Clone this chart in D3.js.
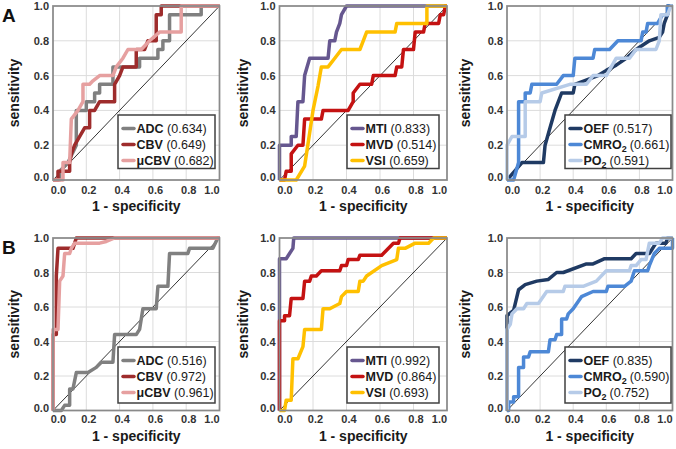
<!DOCTYPE html>
<html>
<head>
<meta charset="utf-8">
<script src="https://cdn.jsdelivr.net/npm/d3@7"></script>
<style>
  body { margin: 0; background: #fff; }
  svg text { font-family: "Liberation Sans", Arial, sans-serif; }
</style>
</head>
<body>
<svg id="chart" width="676" height="449"></svg>
<script>
// axis ticks and labels
const ticks = [0, 0.2, 0.4, 0.6, 0.8, 1.0];
const rowLabels = ["A", "B"];
const xTitle = "1 - specificity";
const yTitle = "sensitivity";

// series names per column ("_" marks a subscript)
const namesCol1 = ["ADC", "CBV", "μCBV"];
const namesCol2 = ["MTI", "MVD", "VSI"];
const namesCol3 = ["OEF", "CMRO_2", "PO_2"];

// AUC values shown in the legends
const aucA = [[0.634, 0.649, 0.682], [0.833, 0.514, 0.659], [0.517, 0.661, 0.591]];
const aucB = [[0.516, 0.972, 0.961], [0.992, 0.864, 0.693], [0.835, 0.590, 0.752]];

// ROC curves: [1 - specificity, sensitivity]
const A1_ADC = [[0,0],[0.04,0],[0.04,0.05],[0.09,0.1],[0.14,0.2],[0.14,0.4],[0.2,0.4],[0.2,0.45],[0.25,0.45],[0.25,0.5],[0.28,0.5],[0.28,0.55],[0.36,0.55],[0.36,0.65],[0.52,0.65],[0.52,0.7],[0.63,0.7],[0.63,0.75],[0.66,0.75],[0.66,0.8],[0.7,0.8],[0.7,0.95],[0.89,0.95],[0.89,1],[1,1]];
const A1_CBV = [[0,0],[0.03,0],[0.03,0.05],[0.1,0.05],[0.1,0.1],[0.11,0.15],[0.13,0.2],[0.19,0.3],[0.22,0.3],[0.22,0.4],[0.25,0.4],[0.28,0.45],[0.37,0.45],[0.37,0.55],[0.4,0.6],[0.42,0.65],[0.5,0.65],[0.5,0.75],[0.55,0.75],[0.57,0.8],[0.62,0.8],[0.62,0.95],[0.65,0.95],[0.65,1],[1,1]];
const A1_uCBV = [[0,0],[0.06,0],[0.06,0.1],[0.1,0.1],[0.11,0.35],[0.15,0.4],[0.18,0.45],[0.18,0.55],[0.22,0.55],[0.24,0.57],[0.28,0.6],[0.36,0.6],[0.38,0.65],[0.42,0.7],[0.45,0.75],[0.53,0.75],[0.58,0.8],[0.64,0.85],[0.77,0.85],[0.77,1],[1,1]];

const A2_MTI = [[0,0],[0,0.2],[0.07,0.2],[0.07,0.25],[0.1,0.25],[0.11,0.45],[0.14,0.45],[0.15,0.6],[0.18,0.7],[0.29,0.7],[0.3,0.8],[0.33,0.8],[0.34,0.85],[0.36,0.9],[0.37,0.95],[0.4,1],[1,1]];
const A2_MVD = [[0,0],[0.03,0],[0.04,0.05],[0.07,0.05],[0.07,0.15],[0.11,0.2],[0.14,0.2],[0.15,0.35],[0.25,0.35],[0.26,0.4],[0.41,0.4],[0.44,0.45],[0.44,0.5],[0.48,0.55],[0.55,0.55],[0.56,0.6],[0.69,0.6],[0.7,0.65],[0.73,0.65],[0.74,0.75],[0.8,0.75],[0.81,0.85],[0.86,0.85],[0.87,0.9],[0.95,0.9],[0.96,0.95],[0.98,0.95],[0.99,1],[1,1]];
const A2_VSI = [[0,0],[0.1,0],[0.15,0.08],[0.18,0.27],[0.2,0.4],[0.23,0.54],[0.25,0.65],[0.29,0.65],[0.33,0.7],[0.37,0.75],[0.48,0.75],[0.5,0.8],[0.52,0.85],[0.69,0.85],[0.7,0.9],[0.88,0.9],[0.88,1],[1,1]];

const A3_OEF = [[0,0],[0.09,0.1],[0.22,0.1],[0.23,0.2],[0.26,0.3],[0.29,0.4],[0.33,0.5],[0.4,0.5],[0.41,0.55],[0.55,0.6],[0.6,0.63],[0.66,0.66],[0.72,0.7],[0.78,0.75],[0.86,0.8],[0.92,0.82],[0.94,0.85],[0.95,0.9],[0.97,0.95],[0.97,1],[1,1]];
const A3_CMRO2 = [[0,0],[0.04,0],[0.07,0.1],[0.07,0.45],[0.11,0.45],[0.11,0.5],[0.14,0.5],[0.15,0.55],[0.3,0.55],[0.34,0.6],[0.4,0.6],[0.41,0.7],[0.52,0.7],[0.53,0.75],[0.62,0.75],[0.67,0.8],[0.81,0.8],[0.82,0.85],[0.84,0.85],[0.85,0.9],[0.91,0.9],[0.94,0.95],[0.97,0.95],[0.97,1],[1,1]];
const A3_PO2 = [[0,0],[0,0.2],[0.03,0.25],[0.11,0.25],[0.11,0.45],[0.2,0.45],[0.21,0.5],[0.38,0.55],[0.48,0.55],[0.52,0.6],[0.6,0.6],[0.66,0.7],[0.74,0.7],[0.78,0.75],[0.9,0.75],[0.92,0.8],[0.93,0.95],[0.97,0.95],[0.99,1],[1,1]];

const B1_ADC = [[0,0],[0.05,0],[0.07,0.03],[0.1,0.03],[0.1,0.125],[0.12,0.125],[0.14,0.22],[0.21,0.22],[0.26,0.25],[0.29,0.28],[0.36,0.28],[0.37,0.44],[0.5,0.44],[0.52,0.47],[0.54,0.59],[0.62,0.59],[0.63,0.72],[0.69,0.72],[0.7,0.91],[0.81,0.91],[0.82,0.94],[0.96,0.94],[0.99,1],[1,1]];
const B1_CBV = [[0,0],[0,0.44],[0.02,0.44],[0.02,0.78],[0.03,0.94],[0.12,0.94],[0.14,1],[1,1]];
const B1_uCBV = [[0,0],[0,0.47],[0.03,0.47],[0.04,0.75],[0.06,0.78],[0.07,0.91],[0.1,0.91],[0.11,0.94],[0.13,0.97],[0.28,0.97],[0.32,0.98],[0.37,1],[1,1]];

const B2_MTI = [[0,0],[0,0.88],[0.04,0.88],[0.06,0.91],[0.08,0.94],[0.085,1],[1,1]];
const B2_MVD = [[0,0],[0,0.52],[0.03,0.52],[0.03,0.55],[0.06,0.55],[0.07,0.65],[0.14,0.65],[0.15,0.75],[0.18,0.75],[0.19,0.78],[0.22,0.78],[0.25,0.81],[0.36,0.81],[0.37,0.84],[0.4,0.84],[0.41,0.875],[0.47,0.875],[0.48,0.9],[0.61,0.9],[0.68,0.97],[0.71,0.97],[0.72,1],[1,1]];
const B2_VSI = [[0,0],[0.03,0],[0.04,0.06],[0.07,0.06],[0.08,0.3],[0.11,0.3],[0.14,0.37],[0.15,0.47],[0.25,0.47],[0.26,0.59],[0.3,0.59],[0.36,0.62],[0.37,0.66],[0.4,0.69],[0.47,0.69],[0.48,0.75],[0.5,0.75],[0.52,0.78],[0.61,0.84],[0.7,0.875],[0.71,0.94],[0.75,0.94],[0.81,0.97],[0.89,0.97],[0.92,1],[1,1]];

const B3_OEF = [[0,0],[0,0.55],[0.04,0.58],[0.07,0.7],[0.11,0.73],[0.18,0.75],[0.25,0.76],[0.3,0.8],[0.34,0.8],[0.48,0.85],[0.52,0.85],[0.59,0.88],[0.75,0.88],[0.78,0.91],[0.86,0.91],[0.9,0.97],[0.96,0.97],[0.97,1],[1,1]];
const B3_CMRO2 = [[0,0],[0.01,0],[0.01,0.05],[0.04,0.05],[0.04,0.08],[0.07,0.08],[0.07,0.25],[0.1,0.25],[0.1,0.31],[0.13,0.31],[0.14,0.34],[0.25,0.34],[0.26,0.41],[0.29,0.41],[0.3,0.44],[0.33,0.44],[0.33,0.53],[0.36,0.53],[0.37,0.56],[0.4,0.59],[0.45,0.66],[0.52,0.69],[0.6,0.69],[0.61,0.72],[0.71,0.72],[0.75,0.75],[0.77,0.81],[0.85,0.81],[0.86,0.84],[0.89,0.91],[0.92,0.94],[1,0.94],[1,1]];
const B3_PO2 = [[0,0],[0,0.47],[0.02,0.5],[0.03,0.56],[0.06,0.59],[0.1,0.59],[0.12,0.62],[0.19,0.62],[0.24,0.69],[0.34,0.69],[0.35,0.72],[0.46,0.72],[0.54,0.75],[0.6,0.81],[0.74,0.81],[0.75,0.84],[0.78,0.84],[0.81,0.875],[0.84,0.875],[0.86,0.97],[0.92,0.97],[0.94,1],[1,1]];

// colours per column
const colorsCol1 = ["#808080", "#9e2c2c", "#e6a0a0"];
const colorsCol2 = ["#66578f", "#c41212", "#ffc000"];
const colorsCol3 = ["#1f3a63", "#4d88d6", "#b6cbe8"];

// layout
const cols = [
  { l: 53, r: 219.5, yt: 19, legL: 118, legR: 215 },
  { l: 279.5, r: 447, yt: 248, legL: 347, legR: 439 },
  { l: 507, r: 672.5, yt: 470, legL: 565, legR: 671 }
];
const rows = [
  { t: 6, b: 180, legT: 115, legB: 168.5, xt: 211, lab: 22 },
  { t: 238, b: 410.5, legT: 347, legB: 403, xt: 441, lab: 254 }
];

const names = [namesCol1, namesCol2, namesCol3];
const colors = [colorsCol1, colorsCol2, colorsCol3];
const curves = [
  [[A1_ADC, A1_CBV, A1_uCBV], [A2_MTI, A2_MVD, A2_VSI], [A3_OEF, A3_CMRO2, A3_PO2]],
  [[B1_ADC, B1_CBV, B1_uCBV], [B2_MTI, B2_MVD, B2_VSI], [B3_OEF, B3_CMRO2, B3_PO2]]
];
const aucs = [aucA, aucB];

const svg = d3.select("#chart");
const fmt1 = d3.format(".1f"), fmt3 = d3.format(".3f");

function drawPanel(ri, ci) {
  const r = rows[ri], c = cols[ci];
  const x = d3.scaleLinear().domain([0, 1]).range([c.l, c.r]);
  const y = d3.scaleLinear().domain([0, 1]).range([r.b, r.t]);
  const g = svg.append("g");

  // grid
  const inner = ticks.slice(1, -1);
  g.append("g").selectAll("line").data(inner).enter().append("line")
    .attr("x1", d => x(d)).attr("x2", d => x(d))
    .attr("y1", r.t).attr("y2", r.b)
    .attr("stroke", "#dcdcdc").attr("stroke-width", 1);
  g.append("g").selectAll("line").data(inner).enter().append("line")
    .attr("x1", c.l).attr("x2", c.r)
    .attr("y1", d => y(d)).attr("y2", d => y(d))
    .attr("stroke", "#dcdcdc").attr("stroke-width", 1);

  // axes
  const ya = g.append("g").attr("transform", `translate(${c.l},0)`)
    .call(d3.axisLeft(y).tickValues(ticks).tickFormat(fmt1).tickSize(0).tickPadding(4));
  const xa = g.append("g").attr("transform", `translate(0,${r.b})`)
    .call(d3.axisBottom(x).tickValues(ticks).tickFormat(fmt1).tickSize(0).tickPadding(ri === 0 ? 6 : 4.5));
  [ya, xa].forEach(a => {
    a.select(".domain").remove();
    a.attr("font-family", "Liberation Sans, Arial, sans-serif")
      .attr("font-size", 11).attr("font-weight", "bold");
    a.selectAll("text").attr("fill", "#333");
  });
  ya.selectAll(".tick text").filter(d => d === 0).attr("y", -3);
  xa.selectAll(".tick text").attr("x", d => d === 0 ? 5 : d === 1 ? -8 : 2);

  // diagonal reference
  g.append("line")
    .attr("x1", x(0)).attr("y1", y(0)).attr("x2", x(1)).attr("y2", y(1))
    .attr("stroke", "#000").attr("stroke-width", 0.8);

  // ROC curves
  const line = d3.line().x(d => x(d[0])).y(d => y(d[1]));
  curves[ri][ci].forEach((pts, i) => {
    g.append("path").datum(pts)
      .attr("d", line)
      .attr("fill", "none")
      .attr("stroke", colors[ci][i])
      .attr("stroke-width", 3.5)
      .attr("stroke-linejoin", "round");
  });

  // frame
  g.append("rect")
    .attr("x", c.l).attr("y", r.t).attr("width", c.r - c.l).attr("height", r.b - r.t)
    .attr("fill", "none").attr("stroke", "#8a8a8a").attr("stroke-width", 1.75);

  // titles
  g.append("text")
    .attr("x", (c.l + c.r) / 2).attr("y", r.xt)
    .attr("text-anchor", "middle").attr("font-size", 14).attr("font-weight", "bold")
    .attr("fill", "#1a1a1a").text(xTitle);
  g.append("text")
    .attr("transform", `translate(${c.yt},${(r.t + r.b) / 2}) rotate(-90)`)
    .attr("text-anchor", "middle").attr("font-size", 14).attr("font-weight", "bold")
    .attr("fill", "#1a1a1a").text(yTitle);

  // legend
  const lg = g.append("g");
  lg.append("rect")
    .attr("x", c.legL).attr("y", r.legT)
    .attr("width", c.legR - c.legL).attr("height", r.legB - r.legT)
    .attr("fill", "#fff").attr("stroke", "#404040").attr("stroke-width", 1.5);
  names[ci].forEach((nm, i) => {
    const cy = r.legT + 13.5 + i * 16;
    lg.append("line")
      .attr("x1", c.legL + 5).attr("x2", c.legL + 16)
      .attr("y1", cy).attr("y2", cy)
      .attr("stroke", colors[ci][i]).attr("stroke-width", 3.5)
      .attr("stroke-linecap", "round");
    const t = lg.append("text")
      .attr("x", c.legL + 18.5).attr("y", cy + 4.5)
      .attr("font-size", 12.5).attr("fill", "#1a1a1a");
    const parts = nm.split("_");
    t.append("tspan").attr("font-weight", "bold").text(parts[0]);
    if (parts[1]) {
      t.append("tspan").attr("font-weight", "bold").attr("font-size", 9).attr("dy", 3).text(parts[1]);
      t.append("tspan").attr("dy", -3).attr("dx", 3).text(`(${fmt3(aucs[ri][ci][i])})`);
    } else {
      t.append("tspan").attr("dx", 3.5).text(`(${fmt3(aucs[ri][ci][i])})`);
    }
  });
}

rows.forEach((r, ri) => {
  cols.forEach((c, ci) => drawPanel(ri, ci));
  svg.append("text")
    .attr("x", 2).attr("y", r.lab)
    .attr("font-size", 19).attr("font-weight", "bold").attr("fill", "#111")
    .text(rowLabels[ri]);
});
</script>
</body>
</html>
